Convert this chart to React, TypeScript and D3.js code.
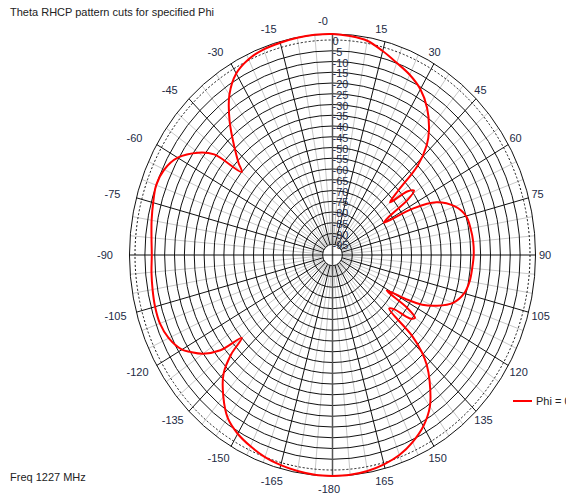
import React from "react";
import * as d3 from "d3";

const TITLE = "Theta RHCP pattern cuts for specified Phi";
const FOOTER = "Freq 1227 MHz";
const LEGEND = "Phi = 0";

const ringLevels = [-95, -90, -85, -80, -75, -70, -65, -60, -55, -50, -45, -40, -35, -30, -25, -20, -15, -10, -5];
const ringLabels = ["0", "-5", "-10", "-15", "-20", "-25", "-30", "-35", "-40", "-45", "-50", "-55", "-60", "-65", "-70", "-75", "-80", "-85", "-90", "-95"];
const angleTicks = [0, 15, 30, 45, 60, 75, 90, 105, 120, 135, 150, 165, 180, -165, -150, -135, -120, -105, -90, -75, -60, -45, -30, -15];
const angleLabels = ["-0", "15", "30", "45", "60", "75", "90", "105", "120", "135", "150", "165", "-180", "-165", "-150", "-135", "-120", "-105", "-90", "-75", "-60", "-45", "-30", "-15"];
const outerDb = 2.8;

const thetaDeg = [
  -180, -175, -170, -165, -160, -155, -150, -145, -140, -135, -132, -130, -128, -125, -122, -120,
  -115, -110, -105, -100, -95, -90, -85, -80, -75, -70, -65, -60, -55, -52, -50, -48, -45, -40,
  -35, -30, -25, -20, -15, -10, -5, 0, 5, 10, 15, 20, 25, 30, 35, 40, 43, 46, 48, 50, 52, 54, 56,
  58, 60, 62, 65, 70, 75, 80, 85, 90, 95, 100, 105, 110, 114, 117, 119, 121, 123, 125, 127, 129,
  131, 133, 135, 137, 140, 145, 150, 155, 160, 165, 170, 175, 180,
];
const gainDb = [
  2.8, 2.6, 2.0, 1.2, 0, -1.8, -4, -7.5, -14, -22, -31, -40, -28, -20, -15, -12,
  -8.5, -7, -7, -7.5, -8, -8.5, -8, -7, -6, -5, -6, -9.5, -17, -24, -40, -36, -30, -19,
  -9, -2.5, 0.5, 1.8, 2.2, 2.6, 2.8, 2.8, 2.2, 1.2, -1.8, -4.9, -7.5, -11, -16.5, -24, -30, -40, -55, -62, -52, -49, -54,
  -66, -70, -54, -42, -34, -30, -29, -28.5, -28.5, -29, -29.5, -31, -35, -42, -49, -58, -68, -55, -49, -51, -60,
  -62, -45, -36, -30, -23.5, -14, -8, -4, -1, 0.8, 2, 2.6, 2.8,
];

const W = 566;
const H = 495;
const cx = 332.5;
const cy = 255;
const RX0 = 197.5;
const RY0 = 215;

export default function App() {
  const rs = d3.scaleLinear().domain([-100, 0]).range([0, 1]);
  const rad = (d: number) => (d * Math.PI) / 180;
  const px = (db: number, th: number) => cx + RX0 * rs(db) * Math.sin(rad(th));
  const py = (db: number, th: number) => cy - RY0 * rs(db) * Math.cos(rad(th));

  const pts: [number, number][] = thetaDeg.map((t, i) => [px(gainDb[i], t), py(gainDb[i], t)]);
  const line = d3.line().curve(d3.curveCatmullRom.alpha(0.5));
  const pathD = line(pts) || "";

  const spokes = d3.range(0, 360, 5);
  const innerDb = -95;
  const font = "Arial, 'Liberation Sans', sans-serif";

  return (
    <svg width={W} height={H} style={{ position: "absolute", left: 0, top: 0, background: "#fff" }}>
      <rect x={0} y={0} width={W} height={H} fill="#fff" />
      {spokes.filter((a) => a % 15 !== 0).map((a) => (
        <line key={"g" + a} x1={px(innerDb, a)} y1={py(innerDb, a)} x2={px(outerDb, a)} y2={py(outerDb, a)} stroke="#c8c8c8" strokeWidth={1} />
      ))}
      {ringLevels.map((v) => (
        <ellipse key={"r" + v} cx={cx} cy={cy} rx={RX0 * rs(v)} ry={RY0 * rs(v)} fill="none" stroke="#111" strokeWidth={1} />
      ))}
      {spokes.filter((a) => a % 15 === 0 && a % 90 !== 0).map((a) => (
        <line key={"b" + a} x1={px(innerDb, a)} y1={py(innerDb, a)} x2={px(outerDb, a)} y2={py(outerDb, a)} stroke="#111" strokeWidth={1} />
      ))}
      <line x1={px(outerDb, 0)} y1={py(outerDb, 0)} x2={px(outerDb, 180)} y2={py(outerDb, 180)} stroke="#555" strokeWidth={1.5} />
      <line x1={px(outerDb, -90)} y1={py(outerDb, -90)} x2={px(outerDb, 90)} y2={py(outerDb, 90)} stroke="#111" strokeWidth={1} />
      <ellipse cx={cx} cy={cy} rx={RX0 * rs(0)} ry={RY0 * rs(0)} fill="none" stroke="#111" strokeWidth={1} strokeDasharray="2,2" />
      <ellipse cx={cx} cy={cy} rx={RX0 * rs(outerDb)} ry={RY0 * rs(outerDb)} fill="none" stroke="#111" strokeWidth={1} />
      {ringLabels.map((s, i) => (
        <text key={"rl" + i} x={cx} y={py(-5 * i, 0) + 1} fontFamily={font} fontSize={11} fill="#222a44" dominantBaseline="central">{s}</text>
      ))}
      <path d={pathD} fill="none" stroke="#ff0000" strokeWidth={2} />
      {angleTicks.map((a, i) => (
        <text key={"al" + i} x={cx + 221 * Math.sin(rad(a)) - 14.5} y={cy - 234 * Math.cos(rad(a))} fontFamily={font} fontSize={11} fill="#222a44" dominantBaseline="central">{angleLabels[i]}</text>
      ))}
      <text x={10} y={12} fontFamily={font} fontSize={11} fill="#222" dominantBaseline="central">{TITLE}</text>
      <text x={10} y={477} fontFamily={font} fontSize={11} fill="#222" dominantBaseline="central">{FOOTER}</text>
      <line x1={513} y1={401} x2={532} y2={401} stroke="#ff0000" strokeWidth={2} />
      <text x={536} y={401} fontFamily={font} fontSize={11} fill="#222" dominantBaseline="central">{LEGEND}</text>
    </svg>
  );
}
